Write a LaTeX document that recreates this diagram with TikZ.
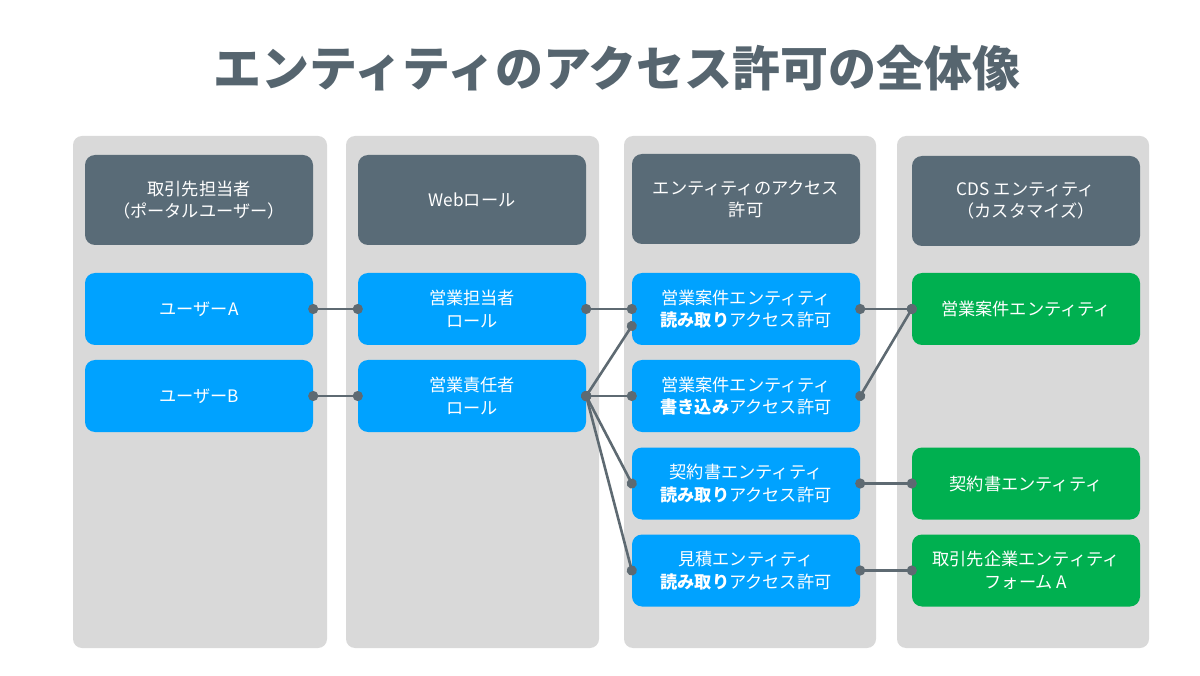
\documentclass[tikz,border=0pt]{standalone}
\usepackage{fontspec}
\setmainfont{Noto Sans CJK JP}
\usetikzlibrary{arrows.meta}
\definecolor{panelgray}{HTML}{D9D9D9}
\definecolor{headslate}{HTML}{596B77}
\definecolor{roleblue}{HTML}{00A2FF}
\definecolor{entgreen}{HTML}{00B050}
\definecolor{linkgray}{HTML}{5E6A72}
\definecolor{titleslate}{HTML}{56656F}
\tikzset{
    panel/.style={fill=panelgray, rounded corners=9pt},
    card/.style={rounded corners=10pt, minimum width=228pt, minimum height=72pt,
        text=white, align=center, inner sep=0pt,
        font=\fontsize{17.2}{22.5}\selectfont},
    headcard/.style={card, fill=headslate, minimum height=90pt},
    rolecard/.style={card, fill=roleblue},
    entcard/.style={card, fill=entgreen},
    % 両端に丸印を付けた連結線
    link/.style={linkgray, line width=2.6pt,
        {Circle[length=10pt]}-{Circle[length=10pt]},
        shorten <=-5pt, shorten >=-5pt},
}

\begin{document}
\begin{tikzpicture}[x=1pt, y=-1pt]
    \useasboundingbox (0,0) rectangle (1200,676);
    \node[font=\fontsize{48}{52}\selectfont\bfseries, text=titleslate] (title) at (617,68) {エンティティのアクセス許可の全体像};
    % 背景の列
    \foreach \l/\r in {73/327, 346/599, 624/876, 897/1149}
        \fill[panel] (\l,136) rectangle (\r,648);
    % 見出し
    \node[headcard] (h1) at (199,200) {取引先担当者\\（ポータルユーザー）};
    \node[headcard] (h2) at (472,200) {Webロール};
    \node[headcard] (h3) at (746,199) {エンティティのアクセス\\許可};
    \node[headcard] (h4) at (1026,201) {CDS エンティティ\\（カスタマイズ）};
    % 利用者とロール
    \node[rolecard] (userA) at (199,309) {ユーザーA};
    \node[rolecard] (userB) at (199,396) {ユーザーB};
    \node[rolecard] (role1) at (472,309) {営業担当者\\ロール};
    \node[rolecard] (role2) at (472,396) {営業責任者\\ロール};
    % アクセス許可
    \node[rolecard] (acc1) at (746,309) {営業案件エンティティ\\\textbf{読み取り}アクセス許可};
    \node[rolecard] (acc2) at (746,396) {営業案件エンティティ\\\textbf{書き込み}アクセス許可};
    \node[rolecard] (acc3) at (746,483.5) {契約書エンティティ\\\textbf{読み取り}アクセス許可};
    \node[rolecard] (acc4) at (746,570.5) {見積エンティティ\\\textbf{読み取り}アクセス許可};
    % エンティティ
    \node[entcard] (ent1) at (1026,309) {営業案件エンティティ};
    \node[entcard] (ent3) at (1026,483.5) {契約書エンティティ};
    \node[entcard] (ent4) at (1026,570.5) {取引先企業エンティティ\\フォーム A};
    % 連結線
    \draw[link] (userA.east) -- (role1.west);
    \draw[link] (userB.east) -- (role2.west);
    \draw[link] (role1.east) -- (acc1.west);
    \draw[link] (role2.east) -- ([yshift=-17pt]acc1.west);
    \draw[link] (role2.east) -- (acc2.west);
    \draw[link] (role2.east) -- (acc3.west);
    \draw[link] (role2.east) -- (acc4.west);
    \draw[link] (acc1.east) -- (ent1.west);
    \draw[link] (acc2.east) -- (ent1.west);
    \draw[link] (acc3.east) -- (ent3.west);
    \draw[link] (acc4.east) -- (ent4.west);
\end{tikzpicture}
\end{document}
